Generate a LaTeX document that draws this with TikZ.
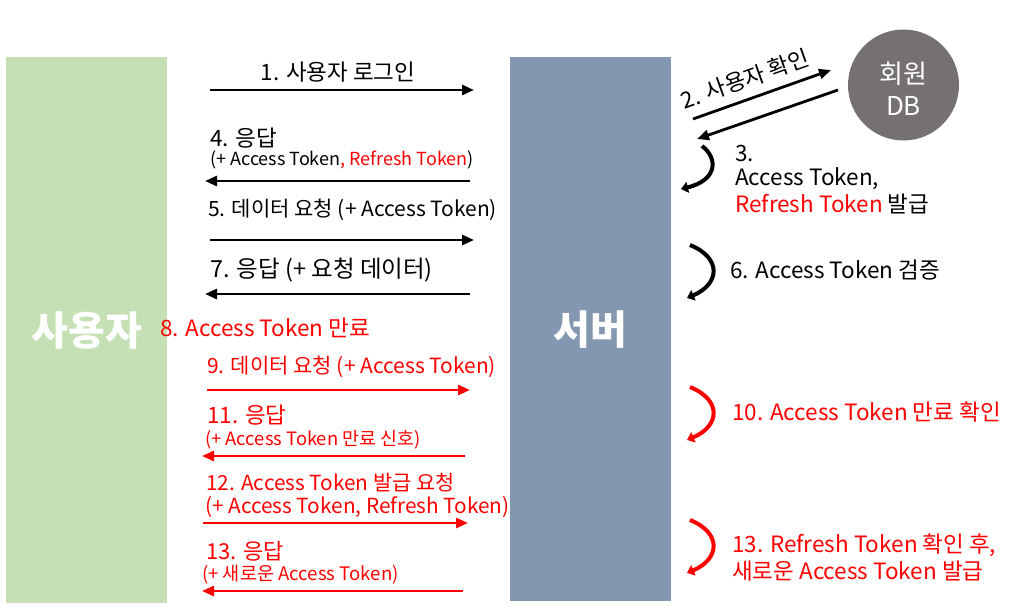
\documentclass[tikz,border=0pt]{standalone}
\usepackage{fontspec}
\setmainfont{Noto Sans CJK KR}
\usetikzlibrary{arrows.meta}
\definecolor{usergreen}{HTML}{C5E0B4}
\definecolor{serverblue}{HTML}{8497B0}
\definecolor{dbgray}{HTML}{767171}
\definecolor{tred}{HTML}{FF0000}
\begin{document}
\begin{tikzpicture}[x=1pt,y=-1pt,
  msg/.style={line width=2.8pt,-{Triangle[length=12pt,width=10pt]}},
  loopar/.style={line width=4pt,-{Triangle[length=7pt,width=11pt]}},
  lbl/.style={font=\fontsize{22.5}{26}\selectfont,inner sep=0pt,anchor=west},
  lbs/.style={font=\fontsize{21}{25}\selectfont,inner sep=0pt,anchor=west},
  sml/.style={font=\fontsize{18}{21}\selectfont,inner sep=0pt,anchor=west},
  big/.style={font=\fontsize{40}{44}\selectfont\bfseries,text=white},
]
\useasboundingbox (0,0) rectangle (1013,613);
% lanes
\node[fill=usergreen,minimum width=161pt,minimum height=546pt,inner sep=0pt,anchor=north west,big] (user) at (6,57) {사용자};
\node[fill=serverblue,minimum width=161pt,minimum height=544pt,inner sep=0pt,anchor=north west,big] (server) at (510,57) {서버};
\node[circle,fill=dbgray,minimum size=111pt,inner sep=0pt] (db) at (903.5,85) {};
\node[text=white,align=center,inner sep=0pt,font=\fontsize{26}{32}\selectfont] (dbtext) at (903.5,89) {회원\\DB};

% 1
\coordinate (a1s) at (210,90); \coordinate (a1e) at (474,90);
\draw[msg] (a1s) -- (a1e);
\node[lbl,anchor=center] (l1) at (338,72) {1. 사용자 로그인};
% 2
\coordinate (a2s) at (693,119); \coordinate (a2e) at (831,70);
\draw[msg] (a2s) -- (a2e);
\node[lbl,anchor=center,rotate=19.5] (l2) at (745,79) {2. 사용자 확인};
\coordinate (a3s) at (838,90); \coordinate (a3e) at (697,139);
\draw[msg] (a3s) -- (a3e);
% 3
\coordinate (c3s) at (702,146); \coordinate (c3e) at (681,189);
\draw[loopar] (c3s) .. controls (718,158) and (718,180) .. (c3e);
\node[lbl] (l3a) at (735,153) {3.};
\node[lbl] (l3b) at (735,179) {Access Token,};
\node[lbl] (l3c) at (735,204) {\textcolor{tred}{Refresh Token} 발급};
% 4
\node[lbl] (l4a) at (210,138) {4. 응답};
\node[sml] (l4b) at (210,160) {(+ Access Token\textcolor{tred}{, Refresh Token})};
\coordinate (a4s) at (470,181); \coordinate (a4e) at (205,181);
\draw[msg] (a4s) -- (a4e);
% 5
\node[lbs] (l5) at (208,210) {5. 데이터 요청 (+ Access Token)};
\coordinate (a5s) at (210,240); \coordinate (a5e) at (474,240);
\draw[msg] (a5s) -- (a5e);
% 6
\coordinate (c6s) at (690,245); \coordinate (c6e) at (687,298);
\draw[loopar] (c6s) .. controls (722,258) and (720,284) .. (c6e);
\node[lbl] (l6) at (730,270) {6. Access Token 검증};
% 7
\node[lbl,font=\fontsize{23.5}{27}\selectfont] (l7) at (210,270) {7. 응답 (+ 요청 데이터)};
\coordinate (a7s) at (470,294); \coordinate (a7e) at (205,294);
\draw[msg] (a7s) -- (a7e);
% 8
\node[lbl,text=tred] (l8) at (160,328) {8. Access Token 만료};
% 9
\node[lbs,text=tred] (l9) at (207,367) {9. 데이터 요청 (+ Access Token)};
\coordinate (a9s) at (207,390); \coordinate (a9e) at (470,390);
\draw[msg,tred] (a9s) -- (a9e);
% 10
\coordinate (c10s) at (690,387); \coordinate (c10e) at (687,440);
\draw[loopar,tred] (c10s) .. controls (722,400) and (720,426) .. (c10e);
\node[lbl,text=tred] (l10) at (732,412) {10. Access Token 만료 확인};
% 11
\node[lbl,text=tred] (l11a) at (207,415) {11. 응답};
\node[sml,text=tred,font=\fontsize{18.4}{21}\selectfont] (l11b) at (205,440) {(+ Access Token 만료 신호)};
\coordinate (a11s) at (465,456); \coordinate (a11e) at (202,456);
\draw[msg,tred] (a11s) -- (a11e);
% 12
\node[lbs,text=tred,font=\fontsize{20.8}{25}\selectfont] (l12a) at (206,483) {12. Access Token 발급 요청};
\node[lbs,text=tred,font=\fontsize{20.8}{25}\selectfont] (l12b) at (205,507) {(+ Access Token, Refresh Token)};
\coordinate (a12s) at (203,523); \coordinate (a12e) at (468,523);
\draw[msg,tred] (a12s) -- (a12e);
% 13
\coordinate (c13s) at (690,520); \coordinate (c13e) at (687,573);
\draw[loopar,tred] (c13s) .. controls (722,533) and (720,559) .. (c13e);
\node[lbl,text=tred] (l13c) at (732,545) {13. Refresh Token 확인 후,};
\node[lbl,text=tred] (l13d) at (732,571) {새로운 Access Token 발급};
\node[lbl,text=tred,font=\fontsize{22}{26}\selectfont] (l13a) at (206,551) {13. 응답};
\node[sml,text=tred,font=\fontsize{18.6}{21}\selectfont] (l13b) at (202,575) {(+ 새로운 Access Token)};
\coordinate (a13s) at (463,591); \coordinate (a13e) at (202,591);
\draw[msg,tred] (a13s) -- (a13e);
\end{tikzpicture}
\end{document}
